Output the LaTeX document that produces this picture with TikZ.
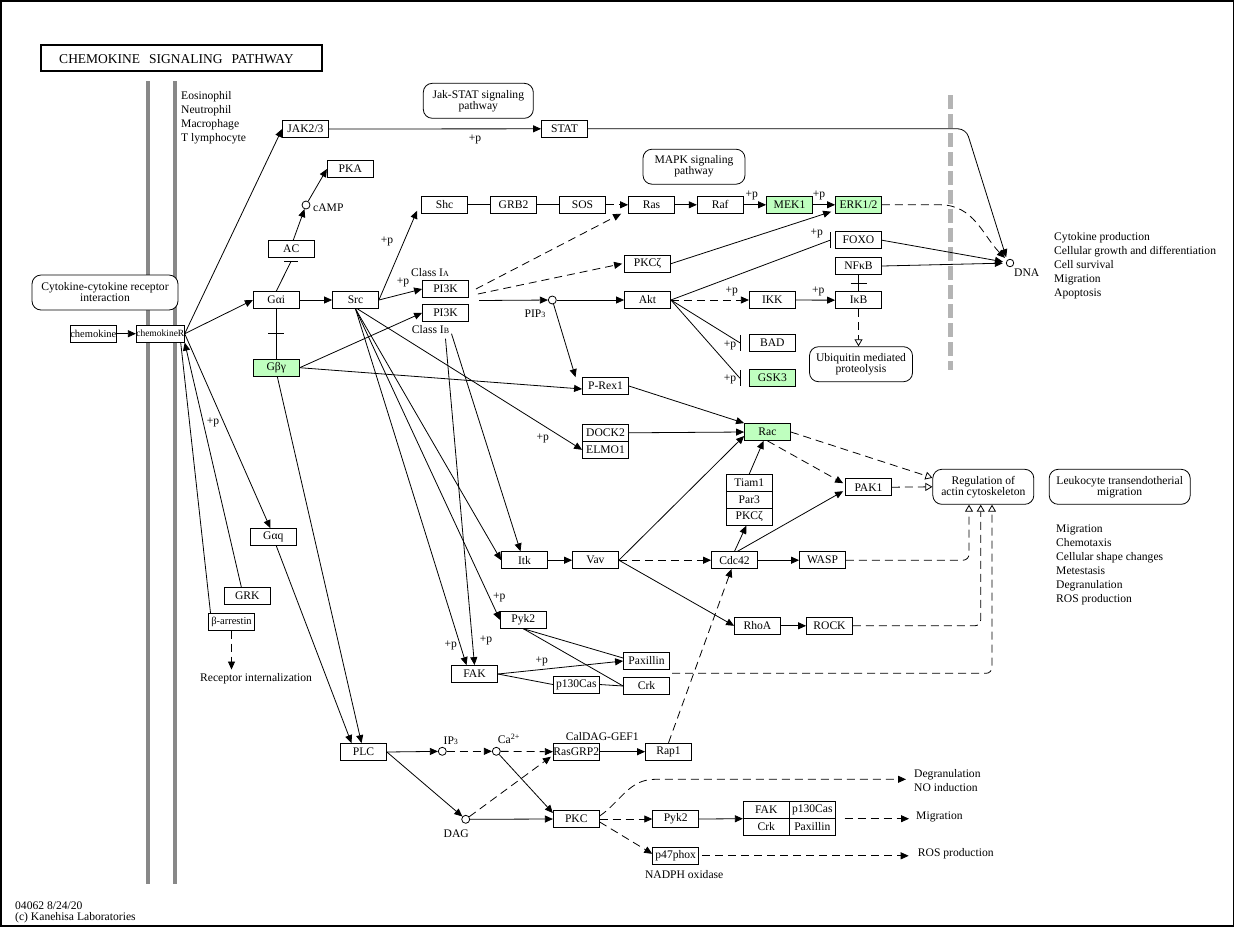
\documentclass[tikz,border=0pt]{standalone}
\usepackage{fontspec}
\setmainfont{Liberation Serif}
\usetikzlibrary{arrows.meta,calc,decorations.markings}
\definecolor{kgreen}{RGB}{191,255,191}
\definecolor{memgray}{RGB}{136,136,136}
\definecolor{nucgray}{RGB}{180,180,180}
\newcommand\fs{\fontsize{11.6}{13}\selectfont}
\newcommand\smallsub[1]{{\fontsize{8}{8}\selectfont #1}}
\begin{document}
\begin{tikzpicture}[x=1pt,y=-1pt,
  box/.style={draw, fill=white, line width=0.8pt, minimum width=46pt, minimum height=17pt, inner sep=0pt, font=\fs},
  gbox/.style={box, fill=kgreen},
  rbox/.style={draw, fill=white, line width=0.8pt, rounded corners=9pt, inner sep=0pt, align=center, font=\fontsize{11.6}{11}\selectfont},
  dot/.style={circle, draw, line width=0.8pt, fill=white, minimum size=8pt, inner sep=0pt},
  lab/.style={inner sep=0pt, font=\fs},
  blk/.style={inner sep=0pt, align=left, font=\fontsize{11.6}{14}\selectfont, anchor=north west},
  ln/.style={line width=0.8pt},
  ar/.style={ln, -{Triangle[length=8pt,width=7pt]}},
  dar/.style={ar, dash pattern=on 8pt off 5pt},
  dopen/.style={ln, dash pattern=on 8pt off 5pt, -{Triangle[open,length=7pt,width=8pt,fill=white]}},
  midbar/.style={ln, postaction={decorate}, decoration={markings, mark=at position 0.5 with {\draw[line width=0.8pt] (0pt,-8pt) -- (0pt,8pt);}}},
]
\useasboundingbox (0,0) rectangle (1246,927);
\draw[line width=1.5pt] (1,1) rectangle (1233.5,926);

% membranes
\draw[memgray, line width=4pt] (148,81) -- (148,884);
\draw[memgray, line width=4pt] (174.7,81) -- (174.7,884);
\draw[nucgray, line width=5pt, dash pattern=on 14pt off 5pt] (950.5,95) -- (950.5,370);

% title
\node[draw, line width=2pt, minimum width=281pt, minimum height=26pt, inner sep=0pt] (title) at (181.5,58) {};
\node[lab, font=\fontsize{13.5}{13.5}\selectfont] (titletext) at (176.5,59.5) {CHEMOKINE\hspace{9pt}SIGNALING\hspace{9pt}PATHWAY};

% texts
\node[blk] (cells) at (181,91) {Eosinophil\\Neutrophil\\Macrophage\\T lymphocyte};
\node[blk] (outdna) at (1054,232.7) {Cytokine production\\Cellular growth and differentiation\\Cell survival\\Migration\\Apoptosis};
\node[blk] (outmig) at (1056,524.3) {Migration\\Chemotaxis\\Cellular shape changes\\Metestasis\\Degranulation\\ROS production};
\node[lab, anchor=west] (foot1) at (15,906) {04062 8/24/20};
\node[lab, anchor=west] (foot2) at (15,917.3) {(c) Kanehisa Laboratories};

% nodes
\node[rbox, minimum width=146pt, minimum height=35pt] (ccr) at (105,292.5) {Cytokine-cytokine receptor\\interaction};
\node[box, font=\fontsize{10.5}{11}\selectfont] (chemokine) at (93.3,333.7) {chemokine};
\node[box, font=\fontsize{9.5}{11}\selectfont] (chemr) at (160.3,333.7) {chemokineR};
\node[box] (jak) at (305.5,129) {JAK2/3};
\node[box] (pka) at (350.3,169) {PKA};
\node[dot] (camp) at (306,205) {};
\node[lab, anchor=west] (camplab) at (313,208) {cAMP};
\node[box] (ac) at (291.2,249.2) {AC};
\node[box] (gai) at (276.3,300) {Gαi};
\node[box] (src) at (355.5,300) {Src};
\node[gbox] (gby) at (276.3,367.7) {Gβγ};
\node[box] (gaq) at (273.3,537) {Gαq};
\node[box] (grk) at (247.3,595.8) {GRK};
\node[box, font=\fontsize{10.5}{11}\selectfont] (barr) at (231.5,621.8) {β-arrestin};
\node[lab, anchor=west] (recint) at (200,679) {Receptor internalization};

\node[rbox, minimum width=110pt, minimum height=35pt] (jakstat) at (478.3,100.8) {Jak-STAT signaling\\pathway};
\node[box] (stat) at (564.5,128.8) {STAT};
\node[rbox, minimum width=102pt, minimum height=35pt] (mapk) at (694,166.7) {MAPK signaling\\pathway};
\node[box] (shc) at (444.5,204.8) {Shc};
\node[box] (grb2) at (513.5,204.8) {GRB2};
\node[box] (sos) at (582.5,204.8) {SOS};
\node[box] (ras) at (651.5,204.8) {Ras};
\node[box] (raf) at (720.2,204.8) {Raf};
\node[gbox] (mek) at (789.5,204.8) {MEK1};
\node[gbox] (erk) at (858.5,204.8) {ERK1/2};
\node[box] (pkcz) at (647.5,263.7) {PKCζ};
\node[box] (pi3ka) at (445.5,289) {PI3K};
\node[box] (pi3kb) at (445.5,312.8) {PI3K};
\node[lab, anchor=west] (classa) at (411,273) {Class I\smallsub{A}};
\node[lab, anchor=west] (classb) at (411.7,329.3) {Class I\smallsub{B}};
\node[dot] (pip3) at (552.3,300) {};
\node[lab] (pip3lab) at (535,314) {PIP\smallsub{3}};
\node[box] (akt) at (647.5,300) {Akt};
\node[box] (ikk) at (772.3,300) {IKK};
\node[box] (bad) at (772.3,342.8) {BAD};
\node[gbox] (gsk) at (772.3,378.2) {GSK3};
\node[box] (prex) at (605.5,386) {P-Rex1};
\node[box] (foxo) at (858.5,240.2) {FOXO};
\node[box] (nfkb) at (858.5,266) {NFκB};
\node[box] (ikb) at (858.5,300.2) {IκB};
\node[rbox, minimum width=103pt, minimum height=35pt] (ubq) at (861,364.2) {Ubiquitin mediated\\proteolysis};
\node[dot, minimum size=7.5pt] (dna) at (1010,263) {};
\node[lab, anchor=west] (dnalab) at (1014,272.7) {DNA};

\node[box] (dock) at (605.5,432.8) {DOCK2};
\node[box] (elmo) at (605.5,449.8) {ELMO1};
\node[gbox] (rac) at (767.5,432) {Rac};
\node[box] (tiam) at (749.3,482.8) {Tiam1};
\node[box] (par3) at (749.3,499.8) {Par3};
\node[box] (pkcz2) at (749.3,516.8) {PKCζ};
\node[box] (pak) at (868.5,487.2) {PAK1};
\node[rbox, minimum width=101pt, minimum height=35pt] (reg) at (983.3,486.8) {Regulation of\\actin cytoskeleton};
\node[rbox, minimum width=141pt, minimum height=35pt] (leuk) at (1119.7,486.8) {Leukocyte transendotherial\\migration};
\node[box] (itk) at (524.5,560.2) {Itk};
\node[box] (vav) at (595.5,560.2) {Vav};
\node[box] (cdc) at (734.5,560.2) {Cdc42};
\node[box] (wasp) at (822.5,560.2) {WASP};
\node[box] (pyk) at (523.3,619.8) {Pyk2};
\node[box] (rhoa) at (757.5,625.8) {RhoA};
\node[box] (rock) at (829.5,625.8) {ROCK};
\node[box] (pax) at (646.5,661) {Paxillin};
\node[box] (crk) at (646.5,686) {Crk};
\node[box] (p130) at (576.3,684.5) {p130Cas};
\node[box] (fak) at (474.5,674) {FAK};

\node[box] (plc) at (363.5,752) {PLC};
\node[dot] (ip3) at (442.3,751.3) {};
\node[lab] (ip3lab) at (450.8,740.7) {IP\smallsub{3}};
\node[dot] (ca) at (496.3,751.3) {};
\node[lab] (calab) at (509,739) {Ca\textsuperscript{2+}};
\node[box] (rasgrp) at (576.3,751.7) {RasGRP2};
\node[lab] (caldag) at (602.3,736.3) {CalDAG-GEF1};
\node[box] (rap1) at (668.5,751.7) {Rap1};
\node[dot] (dag) at (465.7,819.3) {};
\node[lab] (daglab) at (456.2,833.3) {DAG};
\node[box] (pkc) at (576.3,819) {PKC};
\node[box] (pyk2b) at (675.7,819) {Pyk2};
\node[box] (p47) at (675.7,855.8) {p47phox};
\node[lab] (nadph) at (684.2,874.3) {NADPH oxidase};
\node[box] (fak2) at (766.3,809.8) {FAK};
\node[box] (p130b) at (812.3,809.8) {p130Cas};
\node[box] (crk2) at (766.3,826.8) {Crk};
\node[box] (pax2) at (812.3,826.8) {Paxillin};
\node[lab, anchor=west] (degtext) at (914,775) {Degranulation};
\node[lab, anchor=west] (notext) at (914,787.7) {NO induction};
\node[lab, anchor=west] (migtext) at (916,816.7) {Migration};
\node[lab, anchor=west] (rostext) at (917.7,853.3) {ROS production};

% +p labels
\node[lab] (p1) at (475,139) {+p};
\node[lab] (p2) at (387,241) {+p};
\node[lab] (p3) at (403,282) {+p};
\node[lab] (p4) at (751.7,195) {+p};
\node[lab] (p5) at (819,195) {+p};
\node[lab] (p6) at (816.7,233.3) {+p};
\node[lab] (p7) at (731.7,291.7) {+p};
\node[lab] (p8) at (818.3,291.7) {+p};
\node[lab] (p9) at (730,345) {+p};
\node[lab] (p10) at (730,379.3) {+p};
\node[lab] (p11) at (213,422.7) {+p};
\node[lab] (p12) at (542.7,438.3) {+p};
\node[lab] (p13) at (499.3,597.3) {+p};
\node[lab] (p14) at (450.7,645) {+p};
\node[lab] (p15) at (486,640.7) {+p};
\node[lab] (p16) at (541.7,661.7) {+p};

% inhibition bar points
\coordinate (acbar) at ($(ac.south)+(0,3)$);
\coordinate (foxobar) at ($(foxo.west)+(-5,0)$);
\coordinate (badbar) at ($(bad.west)+(-9,0)$);
\coordinate (gskbar) at ($(gsk.west)+(-9,0)$);

% edges
\draw[ar] (chemokine) -- (chemr);
\draw[ar] (chemr.east) -- (jak.west);
\draw[ar] (chemr.east) -- (gai.west);
\draw[ar] (chemr.east) -- ([xshift=-3pt]gaq.north);
\draw[ar] ([xshift=-6pt]grk.north) -- (chemr.south east);
\draw[ln] ([xshift=-21pt]barr.north) -- ([xshift=-4pt]chemr.south east);
\draw[dar] (barr.south) -- ($(barr.south |- recint.north)+(0,-4)$);
\draw[ar] (gai) -- (src);
\draw[ln] (gai.north) -- (acbar);
\draw[ln] ($(acbar)+(-7,0)$) -- ($(acbar)+(7,0)$);
\draw[ar] ([xshift=2pt]ac.north) -- (camp);
\draw[ar] (camp) -- (pka.west);
\draw[midbar] (gai) -- (gby);
\draw[ar] (src.east) -- ([xshift=-4pt,yshift=3pt]shc.south west);
\draw[ar] (src.east) -- (pi3ka.west);
\draw[ar] (gby.east) -- (pi3kb.west);
\draw[ar] (gby.east) -- ([yshift=-3pt]prex.west);
\draw[ar] ([xshift=2pt]src.south) -- (elmo.west);
\draw[ar] (src.south) -- (itk.west);
\draw[ar] (src.south) -- (pyk.west);
\draw[ar] (src.south) -- ([xshift=-8pt]fak.north);
\draw[ar] ([yshift=-17pt]pi3kb.south) -- (fak.north);
\draw[ar] ([xshift=6pt,yshift=-12pt]pi3kb.south) -- ([xshift=-4pt]itk.north);
\draw[ar] ([xshift=3pt]gaq.south) -- ([xshift=-12pt]plc.north);
\draw[ar] ([xshift=1pt]gby.south) -- ([xshift=-2pt]plc.north);
\draw[dar] ([xshift=7pt]pi3ka.east) -- ([xshift=-7pt]ras.south west);
\draw[dar] ([xshift=9pt,yshift=-5pt]pi3ka.east) -- ([xshift=-2pt]pkcz.west);
\coordinate (pi3kout) at (479,300.5);
\draw[ar] (pi3kout) -- (pip3);
\draw[ar] (pip3) -- (akt);
\draw[ar] (pip3) -- ([xshift=-30pt]prex.north);
\draw[ln] (shc) -- (grb2);
\draw[ln] (grb2) -- (sos);
\draw[dar] (sos) -- (ras);
\draw[ar] (ras) -- (raf);
\draw[ar] (raf) -- (mek);
\draw[ar] (mek) -- (erk);
\draw[ar] (pkcz.east) -- ([xshift=-4pt,yshift=2pt]erk.south west);
\draw[ln] (akt.east) -- (foxobar);
\draw[ln] ($(foxobar)+(0,-8)$) -- ($(foxobar)+(0,8)$);
\draw[dar] (akt) -- (ikk);
\draw[ar] (ikk) -- (ikb);
\draw[midbar] (nfkb) -- (ikb);
\draw[dopen] (ikb.south) -- (ikb.south |- ubq.north);
\draw[ln] (akt.east) -- (badbar);
\draw[ln] ($(badbar)+(0,-8)$) -- ($(badbar)+(0,8)$);
\draw[ln] (akt.east) -- (gskbar);
\draw[ln] ($(gskbar)+(0,-8)$) -- ($(gskbar)+(0,8)$);
\draw[ar, shorten >=3pt] (foxo.east) -- (dna);
\draw[ar, shorten >=3pt] (nfkb.east) -- (dna);
\coordinate (erkbend) at (940,204.8);
\draw[dar, shorten >=3pt] (erk.east) -- (erkbend) to[out=0,in=135] (dna);
\coordinate (statbend) at (966,128.8);
\draw[ar, rounded corners=8pt, shorten >=3pt] (stat.east) -- (statbend) -- (dna.north west);
\draw[ar] (jak) -- (stat);

\draw[ar] (prex.east) -- (rac.north west);
\draw[ar] (dock.east) -- (rac.west);
\draw[ar] (vav.east) -- ([yshift=-4pt]rac.west);
\draw[ar] (tiam.north) -- ([xshift=-4pt]rac.south);
\draw[ar] (cdc.north) -- ([xshift=-3pt]pkcz2.south);
\draw[ar] ([xshift=3pt]cdc.north) -- ([xshift=-2pt,yshift=-4pt]pak.west);
\draw[dar] (rac.south) -- ([xshift=-2pt,yshift=4pt]pak.west);
\draw[dopen] (rac.east) -- ([yshift=9pt]reg.west);
\draw[dopen] (pak.east) -- (reg.west);
\draw[ar] (itk) -- (vav);
\draw[dar] (vav) -- (cdc);
\draw[ar] (vav.east) -- (rhoa.west);
\draw[ar] (cdc) -- (wasp);
\draw[ar] (rhoa) -- (rock);
\draw[dopen, rounded corners=6pt] (wasp.east) -| ([xshift=-14.3pt]reg.south);
\draw[dopen, rounded corners=6pt] (rock.east) -| ([xshift=-2.6pt]reg.south);
\coordinate (fakout) at (672,673.3);
\draw[dopen, rounded corners=6pt] (fakout) -| ([xshift=8.7pt]reg.south);
\draw[ln] (pyk.south) -- ([yshift=3pt]pax.west);
\draw[ln] (pyk.south) -- (crk.west);
\draw[ar] (fak.east) -- (pax.west);
\draw[ln] (fak.east) -- (p130.west);
\draw[ln] (p130.east) -- (crk.west);
\draw[dar] (rap1.north) -- ([xshift=-3pt]cdc.south);

\draw[ar] (plc.east) -- (ip3);
\draw[dar] (ip3) -- (ca);
\draw[dar] (ca) -- (rasgrp.west);
\draw[ar] (rasgrp) -- (rap1);
\draw[ar] (plc.east) -- (dag);
\draw[dar] (dag) -- ([xshift=-2pt,yshift=-5pt]rasgrp.west);
\draw[ar] (dag) -- (pkc.west);
\draw[ar] (ca) -- ([yshift=6pt]pkc.west);
\draw[dar] (pkc) -- (pyk2b);
\draw[ar] (pyk2b.east) -- (fak2.south west);
\draw[dar] ([yshift=-3pt]pkc.east) -- ([yshift=2pt]p47.west);
\coordinate (degbend) at (655,779.3);
\draw[dar] ([yshift=3pt]pkc.east) to[out=35,in=180] (degbend) -- ($(degbend -| degtext.west)+(-8,0)$);
\draw[dar] ([xshift=9pt]p130b.south east) -- ($(p130b.south east -| migtext.west)+(-7,0)$);
\draw[dar] ([xshift=3pt]p47.east) -- ($(p47.east -| rostext.west)+(-9,0)$);
\end{tikzpicture}
\end{document}
